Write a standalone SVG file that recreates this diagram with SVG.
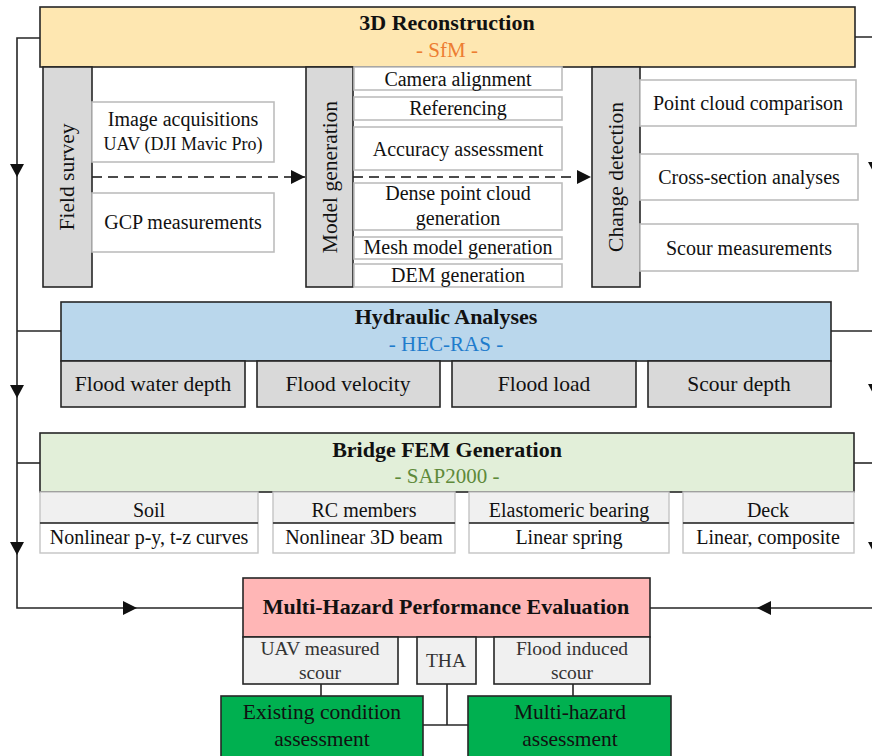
<svg xmlns="http://www.w3.org/2000/svg" width="872" height="756" viewBox="0 0 872 756">
  <style>
    text { font-family: "Liberation Serif", "Times New Roman", serif; fill: #111; text-anchor: middle; }
    .title { font-weight: bold; font-size: 22px; }
    .sub { font-size: 21px; }
    .lbl { font-size: 20px; }
    .narrow { font-size: 18px; }
    .big { font-size: 21.5px; }
    .dim { fill: #333; font-size: 19.5px; }
    .main { stroke: #262626; stroke-width: 1.6; }
    .col { fill: #d9d9d9; stroke: #262626; stroke-width: 1.6; }
    .soft { fill: #ffffff; stroke: #bdbdbd; stroke-width: 1.6; }
    .hyd { fill: #d9d9d9; stroke: #262626; stroke-width: 1.6; }
    .head { fill: #f0f0f0; stroke: #c4c4c4; stroke-width: 1.4; }
    .low { fill: #ffffff; stroke: #c4c4c4; stroke-width: 1.4; }
    .mh { fill: #f0f0f0; stroke: #262626; stroke-width: 1.6; }
    .out { fill: #00b050; stroke: #262626; stroke-width: 1.6; }
    .wire { fill: none; stroke: #262626; stroke-width: 1.6; }
    .dash { fill: none; stroke: #111; stroke-width: 1.6; stroke-dasharray: 10 6; }
    .head-tri { fill: #111; }
  </style>
  <defs>
    <marker id="tipBig" viewBox="0 0 10 10" refX="10" refY="5" markerWidth="14" markerHeight="14" markerUnits="userSpaceOnUse" orient="auto">
      <path d="M0,0 L10,5 L0,10 z" fill="#111"/>
    </marker>
    <!-- downward arrowhead, tip at origin -->
    <path id="down" d="M-7,-13 L7,-13 L0,0 z"/>
  </defs>

  <!-- connectors -->
  <g id="connectors">
    <!-- left feed line -->
    <path class="wire" d="M40,38 H17 V608 H243"/>
    <path class="wire" d="M61,331 H17"/>
    <path class="wire" d="M40,463 H17"/>
    <use href="#down" class="head-tri" x="17" y="177"/>
    <use href="#down" class="head-tri" x="17" y="398"/>
    <use href="#down" class="head-tri" x="17" y="555"/>
    <path class="head-tri" d="M123,601 L123,615 L137,608 z"/>
    <!-- right feed line -->
    <path class="wire" d="M855,37 H875 V608 H650"/>
    <path class="wire" d="M831,331 H875"/>
    <path class="wire" d="M854,463 H875"/>
    <use href="#down" class="head-tri" x="875" y="175"/>
    <use href="#down" class="head-tri" x="875" y="397"/>
    <use href="#down" class="head-tri" x="875" y="555"/>
    <path class="head-tri" d="M771,601 L771,615 L757,608 z"/>
    <!-- workflow inside the reconstruction stage -->
    <path class="dash" d="M92,177 H305" marker-end="url(#tipBig)"/>
    <path class="dash" d="M353,177 H591" marker-end="url(#tipBig)"/>
    <!-- evaluation outputs -->
    <path class="wire" d="M321,684 V696"/>
    <path class="wire" d="M573,684 V696"/>
    <path class="wire" d="M447,684 V725"/>
    <path class="wire" d="M423,725 H468"/>
  </g>

  <!-- 3D reconstruction stage -->
  <g id="reconstruction">
    <rect class="main" x="40" y="7" width="815" height="60" fill="#fee7b1"/>
    <text class="title" x="447" y="30">3D Reconstruction</text>
    <text class="sub" x="447" y="57" style="fill:#ed7d31">- SfM -</text>
  </g>

  <g id="field-survey">
    <rect class="col" x="43" y="67" width="49" height="220"/>
    <text class="big" transform="translate(67,177) rotate(-90)" dominant-baseline="central">Field survey</text>
  </g>
  <g id="image-acquisitions">
    <rect class="soft" x="92" y="102" width="182" height="60"/>
    <text class="lbl" x="183" y="126">Image acquisitions</text>
    <text class="narrow" x="183" y="150">UAV (DJI Mavic Pro)</text>
  </g>
  <g id="gcp-measurements">
    <rect class="soft" x="92" y="193" width="182" height="59"/>
    <text class="lbl" x="183" y="229">GCP measurements</text>
  </g>

  <g id="model-generation">
    <rect class="col" x="306" y="67" width="47" height="220"/>
    <text class="big" transform="translate(330,177) rotate(-90)" dominant-baseline="central">Model generation</text>
  </g>
  <g id="camera-alignment">
    <rect class="soft" x="354" y="67" width="208" height="23"/>
    <text class="lbl" x="458" y="86">Camera alignment</text>
  </g>
  <g id="referencing">
    <rect class="soft" x="354" y="97" width="208" height="23"/>
    <text class="lbl" x="458" y="115">Referencing</text>
  </g>
  <g id="accuracy-assessment">
    <rect class="soft" x="354" y="127" width="208" height="43"/>
    <text class="lbl" x="458" y="156">Accuracy assessment</text>
  </g>
  <g id="dense-point-cloud">
    <rect class="soft" x="354" y="183" width="208" height="47"/>
    <text class="lbl" x="458" y="200">Dense point cloud</text>
    <text class="lbl" x="458" y="225">generation</text>
  </g>
  <g id="mesh-model">
    <rect class="soft" x="354" y="237" width="208" height="22"/>
    <text class="lbl" x="458" y="254">Mesh model generation</text>
  </g>
  <g id="dem-generation">
    <rect class="soft" x="354" y="264" width="208" height="23"/>
    <text class="lbl" x="458" y="282">DEM generation</text>
  </g>

  <g id="change-detection">
    <rect class="col" x="592" y="67" width="48" height="220"/>
    <text class="big" transform="translate(616,177) rotate(-90)" dominant-baseline="central">Change detection</text>
  </g>
  <g id="point-cloud-comparison">
    <rect class="soft" x="640" y="80" width="216" height="46"/>
    <text class="lbl" x="748" y="110">Point cloud comparison</text>
  </g>
  <g id="cross-section">
    <rect class="soft" x="640" y="154" width="218" height="46"/>
    <text class="lbl" x="749" y="184">Cross-section analyses</text>
  </g>
  <g id="scour-measurements">
    <rect class="soft" x="640" y="224" width="218" height="47"/>
    <text class="lbl" x="749" y="255">Scour measurements</text>
  </g>

  <!-- hydraulic analyses stage -->
  <g id="hydraulic">
    <rect class="main" x="61" y="302" width="770" height="59" fill="#bad7ec"/>
    <text class="title" x="446" y="324">Hydraulic Analyses</text>
    <text class="sub" x="446" y="351" style="fill:#1f7ccc">- HEC-RAS -</text>
  </g>
  <g id="flood-water-depth">
    <rect class="hyd" x="61" y="361" width="184" height="46"/>
    <text class="big" x="153" y="391">Flood water depth</text>
  </g>
  <g id="flood-velocity">
    <rect class="hyd" x="257" y="361" width="183" height="46"/>
    <text class="big" x="348" y="391">Flood velocity</text>
  </g>
  <g id="flood-load">
    <rect class="hyd" x="452" y="361" width="184" height="46"/>
    <text class="big" x="544" y="391">Flood load</text>
  </g>
  <g id="scour-depth">
    <rect class="hyd" x="648" y="361" width="183" height="46"/>
    <text class="big" x="739" y="391">Scour depth</text>
  </g>

  <!-- bridge FEM stage -->
  <g id="bridge-fem">
    <rect class="main" x="40" y="433" width="814" height="59" fill="#e2efd9"/>
    <text class="title" x="447" y="457">Bridge FEM Generation</text>
    <text class="sub" x="447" y="483" style="fill:#5e8a3a">- SAP2000 -</text>
  </g>
  <g id="soil">
    <rect class="head" x="40" y="492" width="218" height="31"/>
    <rect class="low" x="40" y="523" width="218" height="30"/>
    <path class="wire" d="M40,523 H258"/>
    <text class="lbl" x="149" y="517">Soil</text>
    <text class="lbl" x="149" y="544">Nonlinear p-y, t-z curves</text>
  </g>
  <g id="rc-members">
    <rect class="head" x="273" y="492" width="182" height="31"/>
    <rect class="low" x="273" y="523" width="182" height="30"/>
    <path class="wire" d="M273,523 H455"/>
    <text class="lbl" x="364" y="517">RC members</text>
    <text class="lbl" x="364" y="544">Nonlinear 3D beam</text>
  </g>
  <g id="elastomeric-bearing">
    <rect class="head" x="469" y="492" width="200" height="31"/>
    <rect class="low" x="469" y="523" width="200" height="30"/>
    <path class="wire" d="M469,523 H669"/>
    <text class="lbl" x="569" y="517">Elastomeric bearing</text>
    <text class="lbl" x="569" y="544">Linear spring</text>
  </g>
  <g id="deck">
    <rect class="head" x="683" y="492" width="171" height="31"/>
    <rect class="low" x="683" y="523" width="171" height="30"/>
    <path class="wire" d="M683,523 H854"/>
    <text class="lbl" x="768" y="517">Deck</text>
    <text class="lbl" x="768" y="544">Linear, composite</text>
  </g>

  <!-- performance evaluation -->
  <g id="multi-hazard-evaluation">
    <rect class="main" x="243" y="578" width="407" height="59" fill="#ffb6b6"/>
    <text class="title" x="446" y="614">Multi-Hazard Performance Evaluation</text>
  </g>
  <g id="uav-measured-scour">
    <rect class="mh" x="243" y="637" width="155" height="47"/>
    <text class="dim" x="320" y="655">UAV measured</text>
    <text class="dim" x="320" y="679">scour</text>
  </g>
  <g id="tha">
    <rect class="mh" x="417" y="637" width="59" height="47"/>
    <text class="dim" x="446" y="667">THA</text>
  </g>
  <g id="flood-induced-scour">
    <rect class="mh" x="494" y="637" width="156" height="47"/>
    <text class="dim" x="572" y="655">Flood induced</text>
    <text class="dim" x="572" y="679">scour</text>
  </g>
  <g id="existing-condition">
    <rect class="out" x="221" y="696" width="202" height="66"/>
    <text class="big" x="322" y="719">Existing condition</text>
    <text class="big" x="322" y="746">assessment</text>
  </g>
  <g id="multi-hazard-assessment">
    <rect class="out" x="468" y="696" width="203" height="66"/>
    <text class="big" x="570" y="719">Multi-hazard</text>
    <text class="big" x="570" y="746">assessment</text>
  </g>
</svg>
